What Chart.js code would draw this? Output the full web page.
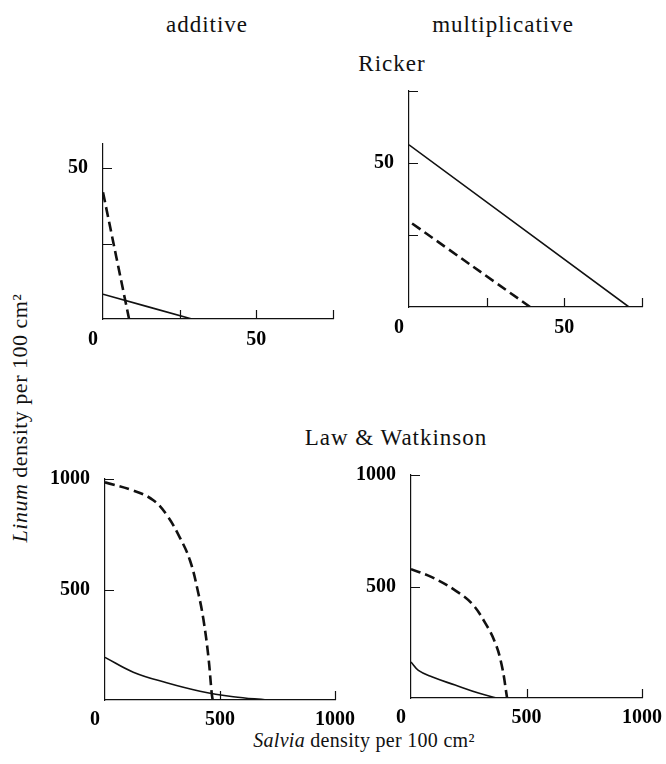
<!DOCTYPE html>
<html>
<head>
<meta charset="utf-8">
<script src="https://cdn.jsdelivr.net/npm/chart.js@4/dist/chart.umd.min.js"></script>
<style>
    html, body { margin: 0; padding: 0; background: #fff; overflow: hidden; }
    body { width: 666px; height: 764px; position: relative; font-family: "Liberation Serif", "DejaVu Serif", serif; color: #111; }
    canvas { position: absolute; }
    .txt { position: absolute; font-size: 23px; letter-spacing: 1px; white-space: nowrap; transform: translate(-50%, -50%); }
    .rot { font-size: 22px; letter-spacing: 0.5px; transform: translate(-50%, -50%) rotate(-90deg); }
    .xt { font-size: 20px; letter-spacing: 0.3px; }
</style>
</head>
<body>
<div class="txt" style="left:207px; top:25px;">additive</div>
<div class="txt" style="left:503px; top:25px;">multiplicative</div>
<div class="txt" style="left:392px; top:64px;">Ricker</div>
<div class="txt" style="left:396px; top:438px;">Law &amp; Watkinson</div>
<div class="txt rot" style="left:20px; top:418px;"><i>Linum</i> density per 100 cm²</div>
<div class="txt xt" style="left:364px; top:740px;"><i>Salvia</i> density per 100 cm²</div>

<canvas id="ricker-add"></canvas>
<canvas id="ricker-mul"></canvas>
<canvas id="law-add"></canvas>
<canvas id="law-mul"></canvas>

<script>
// Datos (densidad de Salvia en x, densidad de Linum en y)
// Ricker aditivo
const RA_SOLID_X = [0, 29];
const RA_SOLID_Y = [8.2, 0];
const RA_DASH_X = [0, 8.5];
const RA_DASH_Y = [42, 0];
// Ricker multiplicativo
const RM_SOLID_X = [0, 70.8];
const RM_SOLID_Y = [56.3, 0];
const RM_DASH_X = [1, 39];
const RM_DASH_Y = [29, 0];
// Law & Watkinson aditivo
const LA_SOLID_X = [0, 123, 268, 413, 558, 703];
const LA_SOLID_Y = [193, 126, 78, 40, 15, 0];
const LA_DASH_X = [0, 123, 210, 268, 326, 370, 406, 428, 449, 464, 468];
const LA_DASH_Y = [985, 948, 904, 838, 734, 630, 482, 364, 200, 30, 0];
// Law & Watkinson multiplicativo
const LM_SOLID_X = [0, 32, 90, 191, 292, 370];
const LM_SOLID_Y = [161, 124, 95, 58, 22, 0];
const LM_DASH_X = [0, 90, 191, 263, 321, 364, 393, 416];
const LM_DASH_Y = [578, 542, 483, 424, 337, 249, 146, 0];

// Marcas de los ejes y etiquetas visibles
const RICKER_X_TICKS = [0, 25, 50, 75];
const RICKER_X_LABELS = [0, 50];
const RICKER_ADD_Y_TICKS = [0, 25, 50];
const RICKER_MUL_Y_TICKS = [0, 25, 50, 75];
const RICKER_Y_LABELS = [50];
const LAW_TICKS = [0, 500, 1000];
const LAW_X_LABELS = [0, 500, 1000];
const LAW_Y_LABELS = [500, 1000];

// Margen reservado alrededor del área de dibujo
const LEFT = 55;
const TOP = 15;
const RIGHT = 30;
const BOTTOM = 42;

Chart.defaults.font.family = '"Liberation Serif", "DejaVu Serif", serif';
Chart.defaults.color = '#000';

// Convierte dos listas en puntos {x, y}
const toPoints = (xs, ys) => xs.map((x, i) => ({ x: x, y: ys[i] }));

// Plugin que dibuja las marcas pequeñas hacia dentro del área
const innerTicks = {
    id: 'innerTicks',
    afterDatasetsDraw(chart) {
        const ctx = chart.ctx;
        const AREA = chart.chartArea;
        ctx.save();
        ctx.strokeStyle = '#111';
        ctx.lineWidth = 1.2;
        ctx.beginPath();
        chart.scales.x.ticks.forEach(t => {
            if (t.value === 0) return;
            const px = Math.round(chart.scales.x.getPixelForValue(t.value)) + 0.5;
            ctx.moveTo(px, AREA.bottom);
            ctx.lineTo(px, AREA.bottom - 9);
        });
        chart.scales.y.ticks.forEach(t => {
            if (t.value === 0) return;
            const py = Math.round(chart.scales.y.getPixelForValue(t.value)) + 0.5;
            ctx.moveTo(AREA.left, py);
            ctx.lineTo(AREA.left + 9, py);
        });
        ctx.stroke();
        ctx.restore();
    }
};

// Función para crear un panel con su área de dibujo en la posición indicada
const panel = (canvasId, cfg) => {
    const CANVAS = document.getElementById(canvasId);
    const area = cfg.area;
    CANVAS.width = area.right - area.left + LEFT + RIGHT;
    CANVAS.height = area.bottom - area.top + TOP + BOTTOM;
    CANVAS.style.left = (area.left - LEFT) + 'px';
    CANVAS.style.top = (area.top - TOP) + 'px';

    new Chart(CANVAS, {
        type: 'scatter',
        data: {
            datasets: [{
                data: cfg.solid,
                showLine: true,
                borderColor: '#111',
                borderWidth: 1.6,
                pointRadius: 0,
                tension: 0.4
            }, {
                data: cfg.dashed,
                showLine: true,
                borderColor: '#111',
                borderWidth: 2.6,
                borderDash: [10, 5],
                pointRadius: 0,
                tension: 0.4
            }]
        },
        options: {
            responsive: false,
            animation: false,
            events: [],
            layout: { padding: { top: TOP, right: RIGHT, left: 0, bottom: 0 } },
            plugins: { legend: { display: false }, tooltip: { enabled: false } },
            scales: {
                x: {
                    type: 'linear',
                    min: 0,
                    max: cfg.xMax,
                    grid: { display: false },
                    border: { display: true, color: '#111', width: 1.2 },
                    afterBuildTicks: s => { s.ticks = cfg.xTicks.map(v => ({ value: v })); },
                    afterFit: s => { s.height = BOTTOM; },
                    ticks: {
                        padding: cfg.xPad,
                        maxRotation: 0,
                        autoSkip: false,
                        font: { size: 20, weight: 'bold' },
                        // el 0 queda desplazado a la izquierda del origen
                        callback: v => cfg.xLabels.includes(v) ? (v === 0 ? '0\u2007\u2007' : String(v)) : ''
                    }
                },
                y: {
                    type: 'linear',
                    min: 0,
                    max: cfg.yMax,
                    grid: { display: false },
                    border: { display: true, color: '#111', width: 1.2 },
                    afterBuildTicks: s => { s.ticks = cfg.yTicks.map(v => ({ value: v })); },
                    afterFit: s => { s.width = LEFT; },
                    ticks: {
                        padding: 7,
                        autoSkip: false,
                        font: { size: 20, weight: 'bold' },
                        callback: v => cfg.yLabels.includes(v) ? String(v) : ''
                    }
                }
            }
        },
        plugins: [innerTicks]
    });
}

panel('ricker-add', {
    area: { left: 103, right: 333, top: 140, bottom: 319 },
    xMax: 75, yMax: 58, xPad: 1,
    xTicks: RICKER_X_TICKS, xLabels: RICKER_X_LABELS,
    yTicks: RICKER_ADD_Y_TICKS, yLabels: RICKER_Y_LABELS,
    solid: toPoints(RA_SOLID_X, RA_SOLID_Y),
    dashed: toPoints(RA_DASH_X, RA_DASH_Y)
});

panel('ricker-mul', {
    area: { left: 409, right: 642, top: 87, bottom: 307 },
    xMax: 75, yMax: 75, xPad: 1,
    xTicks: RICKER_X_TICKS, xLabels: RICKER_X_LABELS,
    yTicks: RICKER_MUL_Y_TICKS, yLabels: RICKER_Y_LABELS,
    solid: toPoints(RM_SOLID_X, RM_SOLID_Y),
    dashed: toPoints(RM_DASH_X, RM_DASH_Y)
});

panel('law-add', {
    area: { left: 105, right: 335, top: 475, bottom: 700 },
    xMax: 1000, yMax: 1000, xPad: 0,
    xTicks: LAW_TICKS, xLabels: LAW_X_LABELS,
    yTicks: LAW_TICKS, yLabels: LAW_Y_LABELS,
    solid: toPoints(LA_SOLID_X, LA_SOLID_Y),
    dashed: toPoints(LA_DASH_X, LA_DASH_Y)
});

panel('law-mul', {
    area: { left: 411, right: 642, top: 471, bottom: 698 },
    xMax: 1000, yMax: 1000, xPad: 0,
    xTicks: LAW_TICKS, xLabels: LAW_X_LABELS,
    yTicks: LAW_TICKS, yLabels: LAW_Y_LABELS,
    solid: toPoints(LM_SOLID_X, LM_SOLID_Y),
    dashed: toPoints(LM_DASH_X, LM_DASH_Y)
});
</script>
</body>
</html>
